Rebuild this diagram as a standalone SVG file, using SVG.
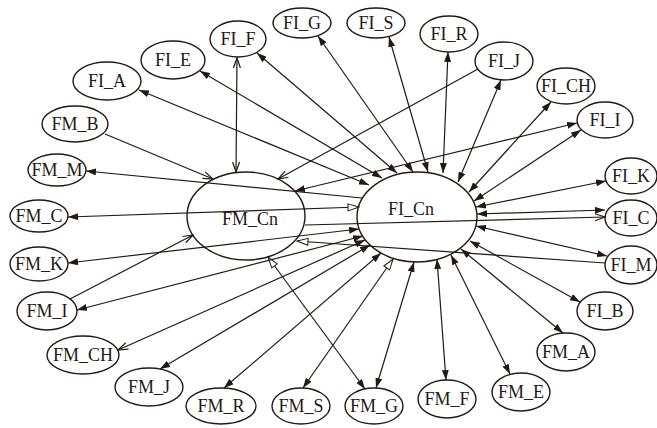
<svg xmlns="http://www.w3.org/2000/svg" width="657" height="428" viewBox="0 0 657 428">
<style>
.n ellipse{fill:#fff;stroke:#231815;stroke-width:1.4}
.n text{font-family:"Liberation Serif","Times New Roman",serif;font-size:18px;fill:#231815;text-anchor:middle}
.e line{stroke:#231815;stroke-width:1.2;fill:none}
</style>
<defs>
<marker id="f" viewBox="0 0 10 7" refX="10" refY="3.5" markerWidth="10" markerHeight="7" markerUnits="userSpaceOnUse" orient="auto-start-reverse"><path d="M0,0 L10,3.5 L0,7 z" fill="#231815"/></marker>
<marker id="h" viewBox="-1 -1 13 9" refX="11" refY="3.5" markerWidth="13" markerHeight="9" markerUnits="userSpaceOnUse" orient="auto-start-reverse"><path d="M0,0 L11,3.5 L0,7 z" fill="#fff" stroke="#231815" stroke-width="1"/></marker>
<marker id="v" viewBox="-1 -1 12 9" refX="10" refY="3.5" markerWidth="12" markerHeight="9" markerUnits="userSpaceOnUse" orient="auto-start-reverse"><path d="M0,0 L10,3.5 L0,7" fill="none" stroke="#231815" stroke-width="1.2"/></marker>
</defs>
<rect width="657" height="428" fill="#fff"/>
<g id="nodes">
<g class="n" id="FM_Cn"><ellipse cx="246" cy="216" rx="59" ry="44"/><text x="250" y="225">FM_Cn</text></g>
<g class="n" id="FI_Cn"><ellipse cx="417" cy="217" rx="60" ry="45"/><text x="411" y="215">FI_Cn</text></g>
<g class="n" id="FI_A"><ellipse cx="107" cy="81" rx="34" ry="19"/><text x="107" y="87">FI_A</text></g>
<g class="n" id="FI_E"><ellipse cx="173" cy="60" rx="32" ry="19"/><text x="173" y="66">FI_E</text></g>
<g class="n" id="FI_F"><ellipse cx="238" cy="39" rx="28" ry="18"/><text x="238" y="45">FI_F</text></g>
<g class="n" id="FI_G"><ellipse cx="302" cy="23" rx="29" ry="15"/><text x="302" y="29">FI_G</text></g>
<g class="n" id="FI_S"><ellipse cx="376" cy="23" rx="29" ry="15"/><text x="376" y="29">FI_S</text></g>
<g class="n" id="FI_R"><ellipse cx="449" cy="34" rx="29" ry="18"/><text x="449" y="40">FI_R</text></g>
<g class="n" id="FI_J"><ellipse cx="504" cy="61" rx="29" ry="19"/><text x="504" y="67">FI_J</text></g>
<g class="n" id="FI_CH"><ellipse cx="566" cy="86" rx="29" ry="18"/><text x="566" y="92">FI_CH</text></g>
<g class="n" id="FI_I"><ellipse cx="605" cy="120" rx="28" ry="18"/><text x="605" y="126">FI_I</text></g>
<g class="n" id="FI_K"><ellipse cx="631" cy="176" rx="26" ry="18"/><text x="631" y="182">FI_K</text></g>
<g class="n" id="FI_C"><ellipse cx="631" cy="218" rx="26" ry="18"/><text x="631" y="224">FI_C</text></g>
<g class="n" id="FI_M"><ellipse cx="631" cy="265" rx="26" ry="19"/><text x="631" y="271">FI_M</text></g>
<g class="n" id="FI_B"><ellipse cx="605" cy="311" rx="28" ry="19"/><text x="605" y="317">FI_B</text></g>
<g class="n" id="FM_A"><ellipse cx="566" cy="352" rx="29" ry="19"/><text x="566" y="358">FM_A</text></g>
<g class="n" id="FM_E"><ellipse cx="521" cy="392" rx="29" ry="19"/><text x="521" y="398">FM_E</text></g>
<g class="n" id="FM_F"><ellipse cx="447" cy="399" rx="29" ry="19"/><text x="447" y="405">FM_F</text></g>
<g class="n" id="FM_G"><ellipse cx="374" cy="406" rx="29" ry="18"/><text x="374" y="412">FM_G</text></g>
<g class="n" id="FM_S"><ellipse cx="301" cy="406" rx="29" ry="18"/><text x="301" y="412">FM_S</text></g>
<g class="n" id="FM_R"><ellipse cx="221" cy="406" rx="35" ry="18"/><text x="221" y="412">FM_R</text></g>
<g class="n" id="FM_J"><ellipse cx="149" cy="387" rx="34" ry="19"/><text x="149" y="393">FM_J</text></g>
<g class="n" id="FM_CH"><ellipse cx="83" cy="355" rx="36" ry="19"/><text x="83" y="361">FM_CH</text></g>
<g class="n" id="FM_I"><ellipse cx="47" cy="311" rx="30" ry="19"/><text x="47" y="317">FM_I</text></g>
<g class="n" id="FM_K"><ellipse cx="39" cy="264" rx="29" ry="17"/><text x="39" y="270">FM_K</text></g>
<g class="n" id="FM_C"><ellipse cx="39" cy="216" rx="29" ry="16"/><text x="39" y="222">FM_C</text></g>
<g class="n" id="FM_M"><ellipse cx="57" cy="170" rx="29" ry="16"/><text x="57" y="176">FM_M</text></g>
<g class="n" id="FM_B"><ellipse cx="75" cy="124" rx="33" ry="18"/><text x="75" y="130">FM_B</text></g>
</g>
<g class="e" id="connectors">
<line x1="139" y1="90" x2="369" y2="185" marker-start="url(#f)" marker-end="url(#f)"/>
<line x1="200" y1="71" x2="382" y2="178" marker-start="url(#f)" marker-end="url(#f)"/>
<line x1="257" y1="53" x2="397" y2="173" marker-start="url(#f)" marker-end="url(#f)"/>
<line x1="237" y1="58" x2="236" y2="172" marker-start="url(#v)" marker-end="url(#v)"/>
<line x1="318" y1="36" x2="413" y2="172" marker-start="url(#f)" marker-end="url(#f)"/>
<line x1="389" y1="37" x2="428" y2="172" marker-start="url(#f)" marker-end="url(#f)"/>
<line x1="448" y1="52" x2="443" y2="173" marker-start="url(#f)" marker-end="url(#f)"/>
<line x1="478" y1="69" x2="278" y2="179" marker-end="url(#v)"/>
<line x1="501" y1="80" x2="458" y2="182" marker-start="url(#f)" marker-end="url(#f)"/>
<line x1="551" y1="102" x2="469" y2="192" marker-start="url(#f)" marker-end="url(#f)"/>
<line x1="577" y1="123" x2="295" y2="191" marker-start="url(#f)" marker-end="url(#f)"/>
<line x1="581" y1="130" x2="474" y2="201" marker-start="url(#f)" marker-end="url(#f)"/>
<line x1="606" y1="181" x2="476" y2="207" marker-start="url(#f)" marker-end="url(#f)"/>
<line x1="605" y1="210" x2="477" y2="214" marker-start="url(#f)" marker-end="url(#f)"/>
<line x1="305" y1="225" x2="605" y2="217" marker-end="url(#v)"/>
<line x1="607" y1="256" x2="476" y2="226" marker-start="url(#f)" marker-end="url(#f)"/>
<line x1="605" y1="263" x2="297" y2="241" marker-end="url(#h)"/>
<line x1="580" y1="302" x2="470" y2="241" marker-start="url(#f)" marker-end="url(#f)"/>
<line x1="563" y1="333" x2="461" y2="249" marker-start="url(#f)" marker-end="url(#f)"/>
<line x1="510" y1="374" x2="451" y2="255" marker-start="url(#f)" marker-end="url(#f)"/>
<line x1="446" y1="380" x2="437" y2="259" marker-start="url(#f)" marker-end="url(#f)"/>
<line x1="376" y1="388" x2="414" y2="262" marker-start="url(#f)" marker-end="url(#f)"/>
<line x1="365" y1="389" x2="268" y2="257" marker-start="url(#f)" marker-end="url(#h)"/>
<line x1="303" y1="388" x2="393" y2="259" marker-start="url(#f)" marker-end="url(#h)"/>
<line x1="224" y1="388" x2="381" y2="253" marker-start="url(#f)" marker-end="url(#f)"/>
<line x1="160" y1="369" x2="370" y2="245" marker-start="url(#f)" marker-end="url(#f)"/>
<line x1="118" y1="350" x2="365" y2="240" marker-start="url(#v)" marker-end="url(#f)"/>
<line x1="70" y1="299" x2="193" y2="235" marker-end="url(#v)"/>
<line x1="77" y1="310" x2="363" y2="236" marker-start="url(#f)" marker-end="url(#f)"/>
<line x1="68" y1="263" x2="359" y2="229" marker-start="url(#f)" marker-end="url(#f)"/>
<line x1="68" y1="217" x2="359" y2="207" marker-start="url(#f)" marker-end="url(#h)"/>
<line x1="86" y1="171" x2="362" y2="198" marker-start="url(#f)"/>
<line x1="105" y1="134" x2="213" y2="179" marker-end="url(#v)"/>
</g>
</svg>
